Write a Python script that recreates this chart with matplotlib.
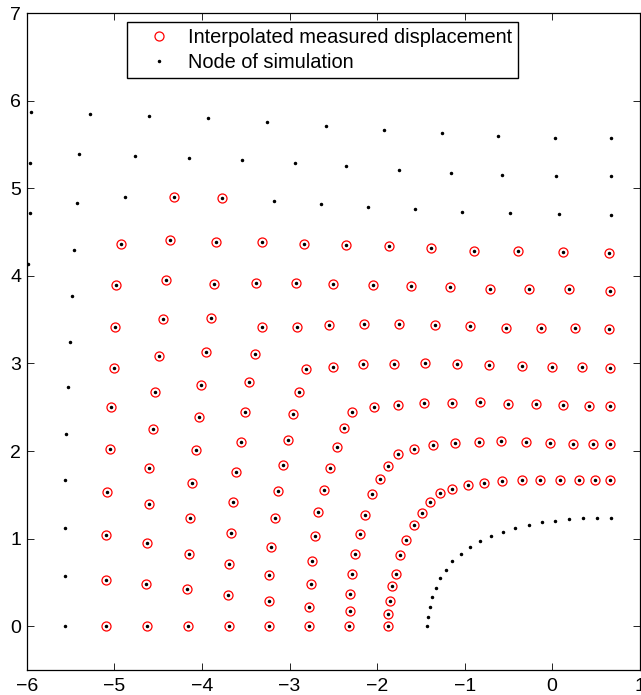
import matplotlib.pyplot as plt

plt.rcParams['font.family'] = ['Liberation Sans', 'DejaVu Sans']

# nodes with an interpolated measurement (red circles), read line by line
meas_x = [
    # x ~ -5.1 line
    -5.10, -5.10, -5.10, -5.09, -5.05, -5.04, -5.01, -4.99, -4.98, -4.92,
    # x ~ -4.6 line
    -4.63, -4.64, -4.63, -4.61, -4.60, -4.56, -4.54, -4.49, -4.44, -4.41, -4.36,
    # x ~ -4.15 line
    -4.16, -4.17, -4.15, -4.14, -4.12, -4.07, -4.04, -4.01, -3.95, -3.90, -3.86, -3.84,
    # two on the y ~ 4.9 row
    -4.32, -3.77,
    # row y ~ 4.4
    -3.32, -2.83, -2.35, -1.86, -1.38, -0.89, -0.39, 0.12, 0.65,
    # row y ~ 3.9
    -3.38, -2.93, -2.50, -2.05, -1.61, -1.17, -0.71, -0.27, 0.19, 0.66,
    # x ~ -3.7 line then row y ~ 3.4
    -3.69, -3.70, -3.69, -3.67, -3.65, -3.61, -3.56, -3.51, -3.46, -3.40, -3.31,
    -2.92, -2.55, -2.15, -1.75, -1.34, -0.94, -0.53, -0.13, 0.26, 0.65,
    # x ~ -3.2 line then row y ~ 3.0
    -3.24, -3.24, -3.23, -3.21, -3.17, -3.13, -3.08, -3.02, -2.96, -2.89, -2.81,
    -2.50, -2.16, -1.81, -1.45, -1.09, -0.72, -0.34, 0.00, 0.34, 0.66,
    # x ~ -2.8 line then row y ~ 2.5
    -2.78, -2.78, -2.76, -2.74, -2.71, -2.67, -2.61, -2.54, -2.46, -2.38, -2.29,
    -2.04, -1.76, -1.46, -1.14, -0.83, -0.50, -0.18, 0.12, 0.42, 0.66,
    # x ~ -2.3 line then row y ~ 2.1
    -2.32, -2.31, -2.31, -2.29, -2.25, -2.20, -2.14, -2.06, -1.97, -1.87, -1.76,
    -1.58, -1.36, -1.11, -0.84, -0.58, -0.30, -0.02, 0.24, 0.47, 0.66,
    # x ~ -1.87 line then row y ~ 1.67
    -1.87, -1.87, -1.85, -1.83, -1.78, -1.74, -1.67, -1.58, -1.49, -1.39, -1.28,
    -1.15, -0.96, -0.78, -0.57, -0.34, -0.14, 0.09, 0.31, 0.49, 0.66,
]
meas_y = [
    0.00, 0.53, 1.04, 1.53, 2.02, 2.50, 2.95, 3.42, 3.90, 4.37,
    0.00, 0.48, 0.95, 1.39, 1.81, 2.25, 2.67, 3.09, 3.51, 3.95, 4.41,
    0.00, 0.42, 0.83, 1.23, 1.63, 2.01, 2.39, 2.76, 3.13, 3.52, 3.91, 4.39,
    4.90, 4.89,
    4.39, 4.37, 4.35, 4.34, 4.32, 4.29, 4.28, 4.27, 4.26,
    3.92, 3.92, 3.91, 3.90, 3.89, 3.87, 3.85, 3.85, 3.85, 3.83,
    0.00, 0.36, 0.71, 1.06, 1.42, 1.76, 2.10, 2.45, 2.79, 3.11, 3.42,
    3.42, 3.44, 3.45, 3.45, 3.44, 3.43, 3.41, 3.41, 3.40, 3.39,
    0.00, 0.29, 0.58, 0.91, 1.23, 1.54, 1.84, 2.13, 2.42, 2.68, 2.94,
    2.96, 2.99, 2.99, 3.00, 2.99, 2.98, 2.97, 2.96, 2.96, 2.95,
    0.00, 0.22, 0.48, 0.75, 1.03, 1.30, 1.56, 1.81, 2.05, 2.26, 2.45,
    2.50, 2.53, 2.55, 2.55, 2.56, 2.54, 2.54, 2.53, 2.51, 2.52,
    0.00, 0.17, 0.37, 0.60, 0.83, 1.05, 1.27, 1.51, 1.68, 1.83, 1.97,
    2.02, 2.07, 2.09, 2.10, 2.11, 2.10, 2.09, 2.08, 2.08, 2.08,
    0.00, 0.14, 0.29, 0.46, 0.60, 0.81, 0.98, 1.15, 1.29, 1.42, 1.52,
    1.57, 1.61, 1.64, 1.66, 1.67, 1.67, 1.67, 1.67, 1.67, 1.67,
]

# simulation nodes without a measurement (black dots only)
node_x = [
    # hole boundary
    -1.43, -1.42, -1.40, -1.37, -1.33, -1.28, -1.21, -1.14, -1.04, -0.94, -0.82,
    -0.70, -0.56, -0.42, -0.27, -0.12, 0.03, 0.19, 0.35, 0.51, 0.67,
    # x ~ -5.5 line
    -5.57, -5.57, -5.57, -5.56, -5.55, -5.53, -5.51, -5.48, -5.46, -5.43,
    # row y ~ 4.8
    -4.88, -3.18, -2.64, -2.10, -1.57, -1.03, -0.48, 0.08, 0.67,
    # left edge
    -5.99, -5.97,
    # row y ~ 5.3
    -5.96, -5.41, -4.77, -4.15, -3.54, -2.94, -2.35, -1.75, -1.16, -0.57, 0.04, 0.67,
    # row y ~ 5.8
    -5.95, -5.28, -4.60, -3.93, -3.26, -2.58, -1.92, -1.26, -0.62, 0.03, 0.67,
]
node_y = [
    0.00, 0.11, 0.22, 0.33, 0.44, 0.55, 0.64, 0.74, 0.82, 0.90, 0.97,
    1.03, 1.08, 1.12, 1.16, 1.19, 1.20, 1.22, 1.23, 1.24, 1.24,
    0.00, 0.57, 1.12, 1.67, 2.20, 2.73, 3.25, 3.77, 4.30, 4.83,
    4.90, 4.85, 4.82, 4.79, 4.76, 4.73, 4.72, 4.71, 4.70,
    4.14, 4.72,
    5.29, 5.39, 5.37, 5.35, 5.32, 5.29, 5.25, 5.21, 5.18, 5.15, 5.14, 5.14,
    5.87, 5.85, 5.83, 5.80, 5.76, 5.71, 5.67, 5.63, 5.60, 5.58, 5.57,
]

fig = plt.figure(figsize=(6.41, 6.95), dpi=100)
ax = fig.add_axes([0.042, 0.036, 0.956, 0.945])

ax.plot(meas_x, meas_y, 'o', ls='none', mfc='none', mec='r', ms=6.5, mew=0.9,
        label='Interpolated measured displacement')
ax.plot(node_x + meas_x, node_y + meas_y, '.', ls='none', color='k', ms=3,
        label='Node of simulation')

ax.set_xlim(-6, 1)
ax.set_ylim(-0.5, 7)
ax.set_xticks(range(-6, 2))
ax.set_yticks(range(0, 8))
ax.tick_params(direction='in', top=True, right=True, length=5, width=0.6,
               labelsize=14)
ax.tick_params(axis='x', pad=6)
ax.tick_params(axis='y', pad=4)
for s in ax.spines.values():
    s.set_linewidth(0.9)

leg = ax.legend(loc='upper center', bbox_to_anchor=(0.482, 0.987), fontsize=14.4,
                fancybox=False, edgecolor='k', framealpha=1, borderaxespad=0,
                borderpad=0.3, labelspacing=0.3, handlelength=2.6,
                handletextpad=0.13)
leg.get_frame().set_linewidth(1.0)

fig.savefig('out.png', dpi=100)
